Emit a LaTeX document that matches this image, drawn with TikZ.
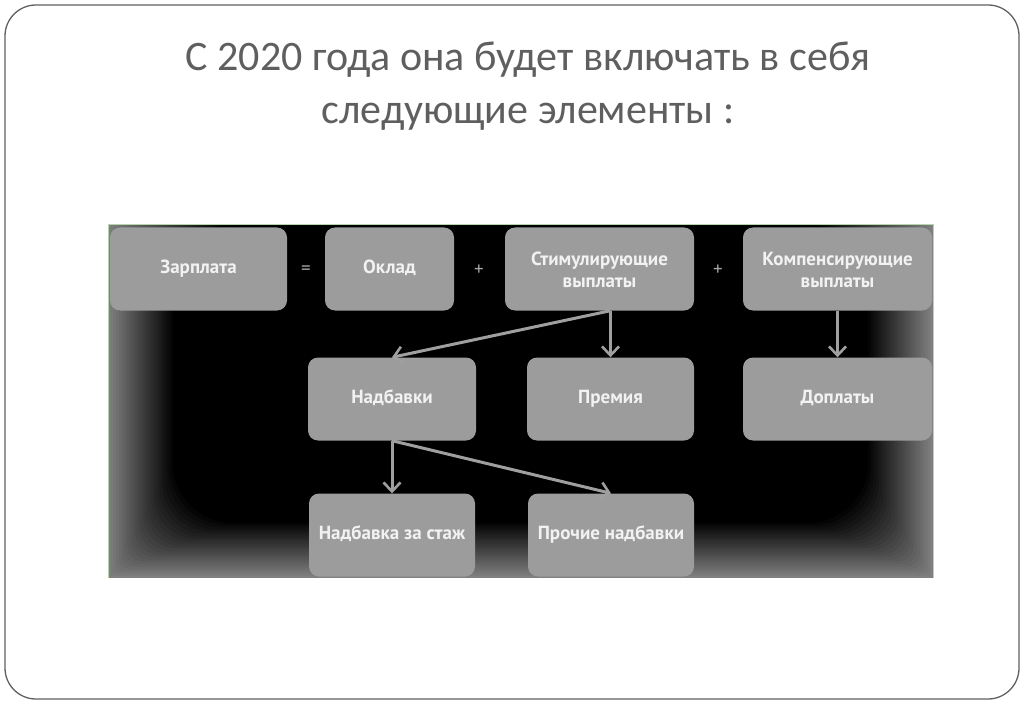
\documentclass[tikz,border=0pt]{standalone}
\usepackage{fontspec}
\setmainfont{Carlito}
\newfontfamily\boxfont{PT Sans}
\usetikzlibrary{arrows.meta}
\definecolor{titlegray}{HTML}{5F5F5F}
\definecolor{boxgray}{HTML}{9C9C9C}
\definecolor{edgegreen}{HTML}{B7D3AC}

\begin{document}
\begin{tikzpicture}[x=1pt,y=-1pt,
    elem/.style={inner sep=0mm,rounded corners=10pt,fill=boxgray,text=white!95!black,
        minimum height=83pt,align=center,
        font=\boxfont\bfseries\fontsize{19}{22}\selectfont},
    op/.style={inner sep=0mm,text=gray!70,font=\boxfont\fontsize{19}{20}\selectfont},
    link/.style={draw=gray!75,line width=3pt,-{Straight Barb[length=9pt,width=17pt,line width=2.6pt]}}]
                \useasboundingbox (0,0) rectangle (1024,708);
                \draw[titlegray,line width=1.3pt,rounded corners=31pt] (5,5) rectangle (1019,699);
                \node[text=titlegray,align=center,font=\fontsize{42}{53}\selectfont] (title) at (528,86) {С 2020 года она будет включать в себя\\следующие элементы :};
                % dark panel, lighter towards the edges
                \foreach \k [evaluate=\k as \p using 100*\k/24] in {0,...,24}
                \fill[black!\p!gray, rounded corners=2.5*\k pt] (108+2.7*\k,225) rectangle (933-2.7*\k,578-2.3*\k);
                \draw[edgegreen,line width=1pt] (108,578) -- (108,225) -- (933,225) -- (933,578);
                \foreach \x/\y/\w/\n/\t in {198.5/269/177/zarplata/Зарплата, 389.5/269/129/oklad/Оклад, 599.5/269/189/stim/Стимулирующие\\выплаты, 837.5/269/189/komp/Компенсирующие\\выплаты, 392/399/168/nadb/Надбавки, 610.5/399/167/premiya/Премия, 837.5/399/189/doplaty/Доплаты, 392/535/166/stazh/Надбавка за стаж, 611/535/166/prochie/Прочие надбавки}
                \node[elem,minimum width=\w pt] (\n) at (\x,\y) {\strut\t};
                \foreach \x/\n/\t in {306/eq/=, 479/plus1/+, 718/plus2/+}
                \node[op] (\n) at (\x,270) {\t};
                \foreach \s/\t in {premiya.north |- stim.south/nadb.north, premiya.north |- stim.south/premiya.north, komp.south/doplaty.north, nadb.south/stazh.north, nadb.south/prochie.north}
                \draw[link] (\s) -- (\t);

            \end{tikzpicture}
\end{document}
